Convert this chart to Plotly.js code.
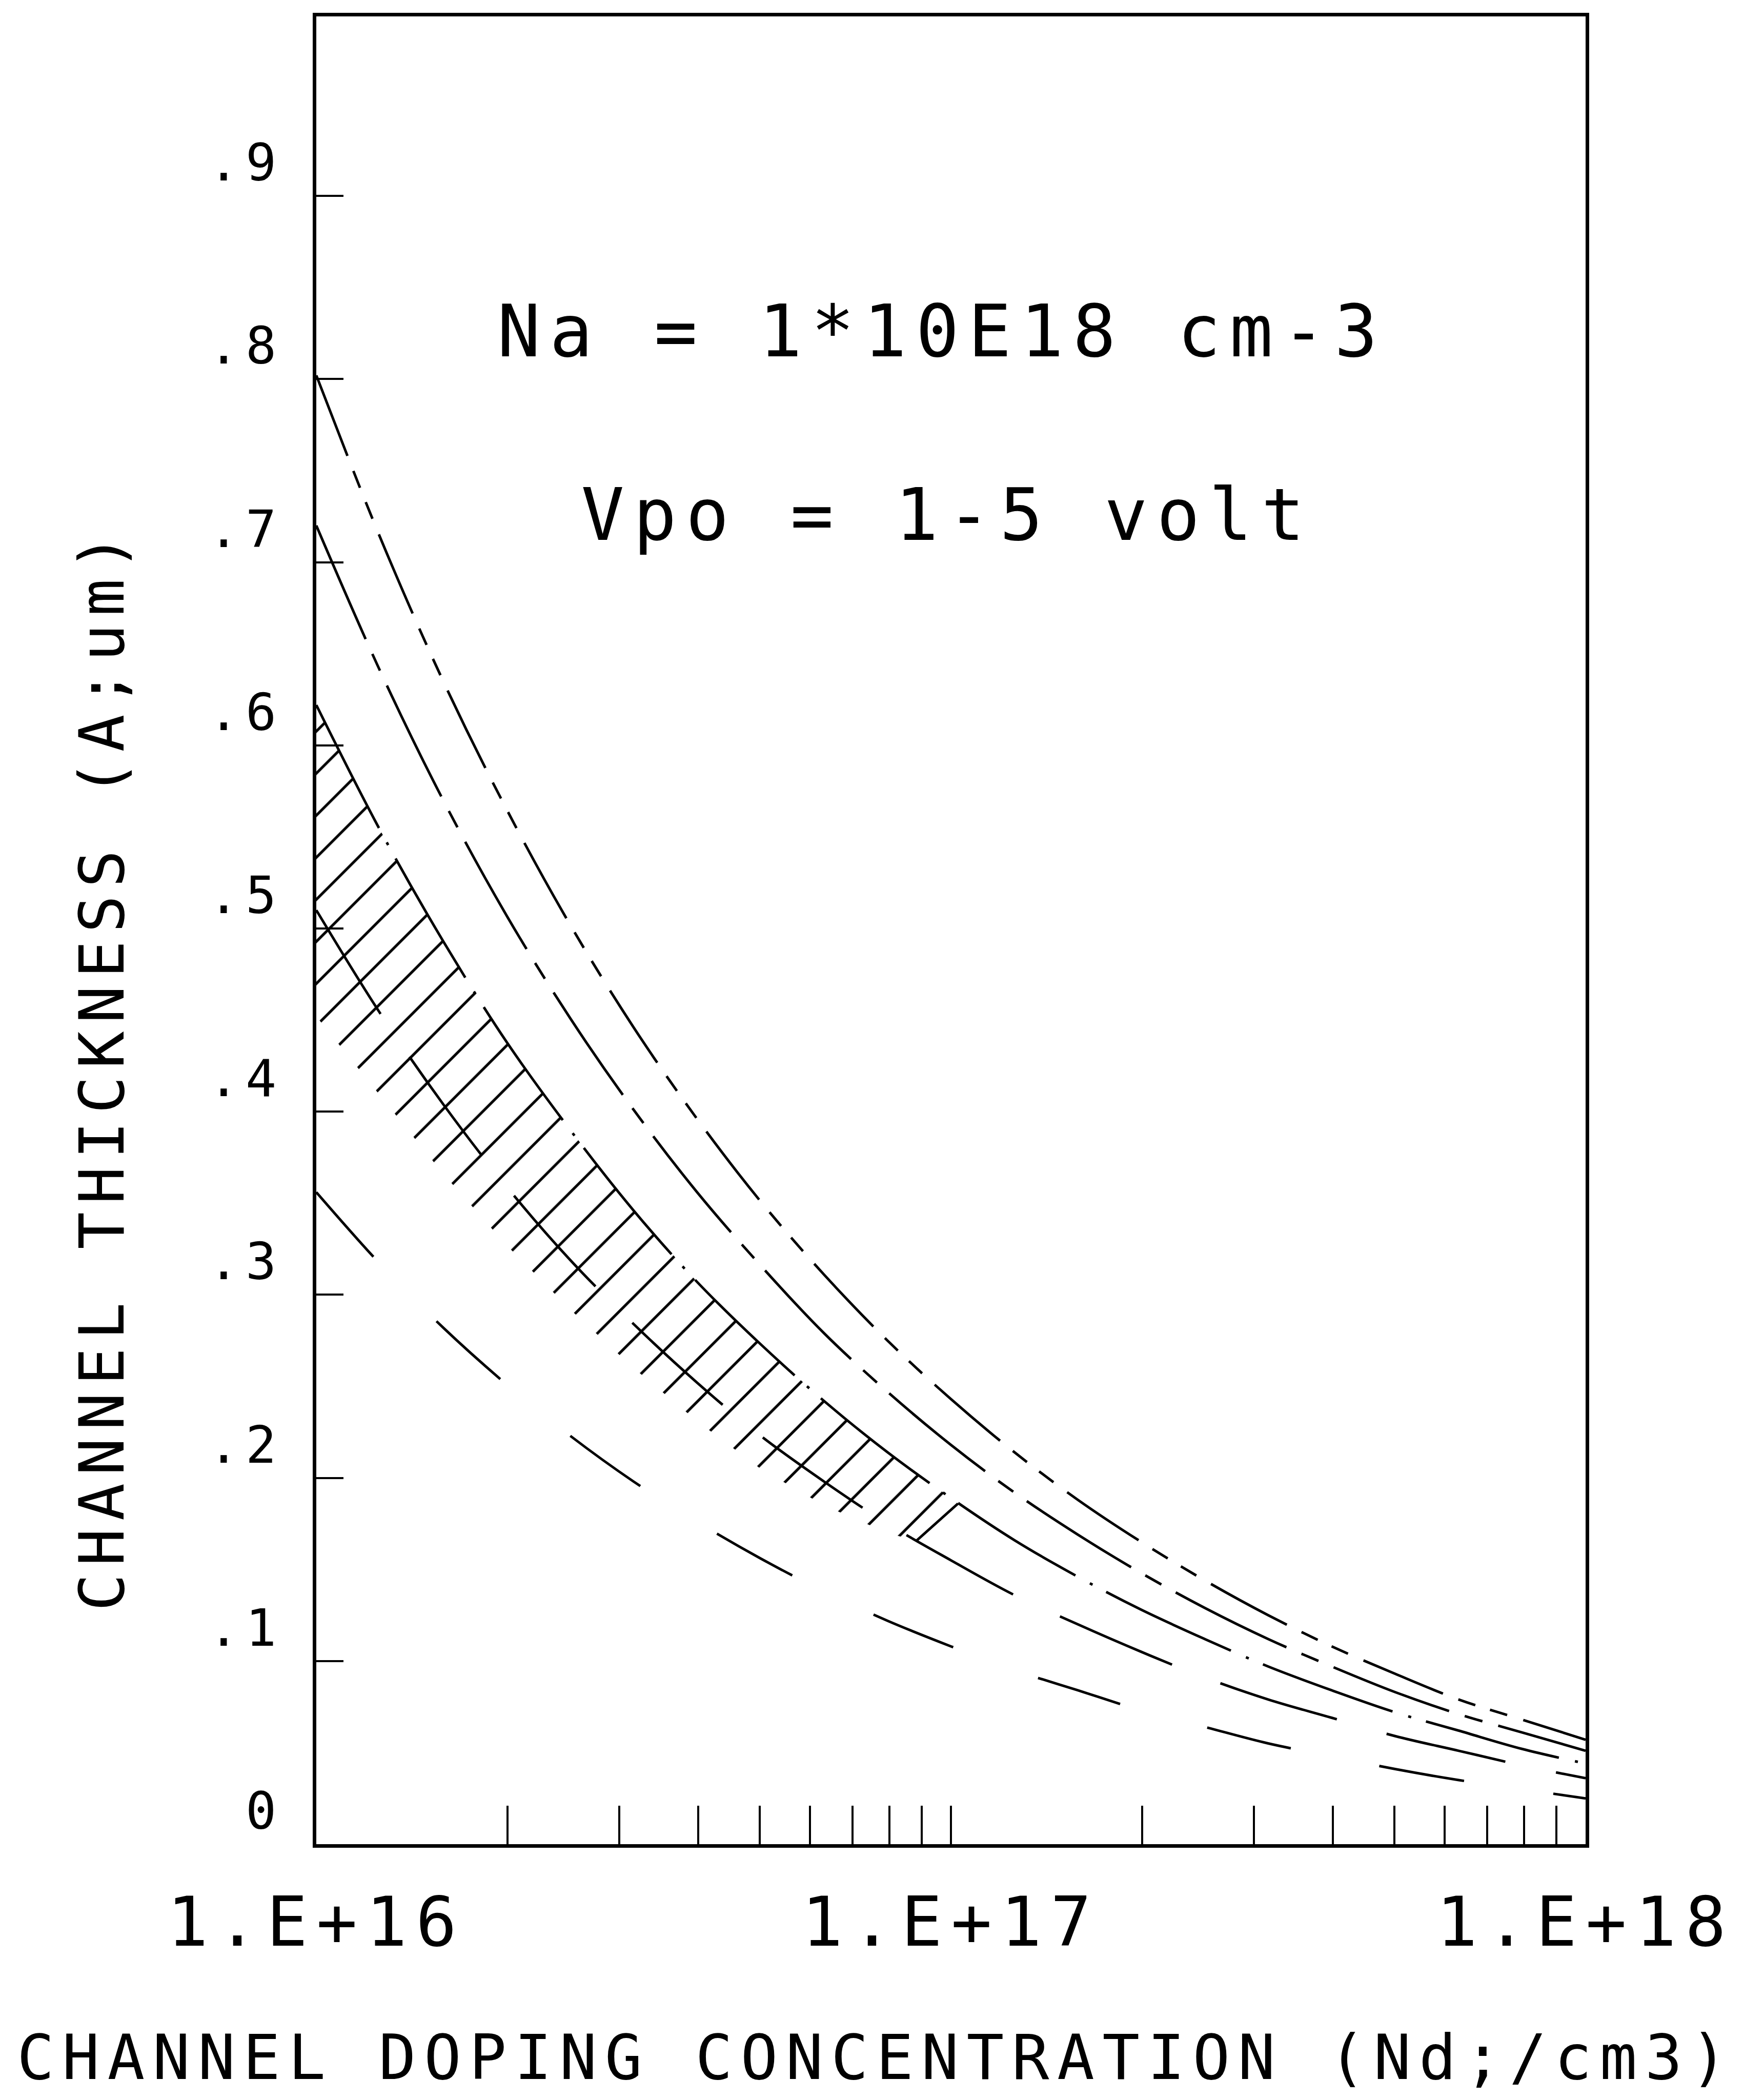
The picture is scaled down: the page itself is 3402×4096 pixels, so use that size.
<!DOCTYPE html>
<html>
<head>
<meta charset="utf-8">
<script src="https://cdn.plot.ly/plotly-3.0.1.min.js"></script>
<style>
html, body { margin:0; padding:0; background:#fff; }
#chart { width:3402px; height:4096px; }
#chart text { letter-spacing: 0.127em; }
</style>
</head>
<body>
<div id="chart"></div>
<script>
// Channel doping concentration Nd (/cm3), 0.1-decade steps
const nd = [1e16, 1.259e16, 1.585e16, 1.995e16, 2.512e16, 3.162e16, 3.981e16, 5.012e16, 6.31e16, 7.943e16,
            1e17, 1.259e17, 1.585e17, 1.995e17, 2.512e17, 3.162e17, 3.981e17, 5.012e17, 6.31e17, 7.943e17, 1e18];
// Channel thickness A (um) for Vpo = 1..5 V
const vpo1 = [0.356,0.317,0.282,0.251,0.223,0.198,0.176,0.156,0.138,0.122,0.108,0.095,0.084,0.073,0.064,0.055,0.048,0.041,0.035,0.030,0.025];
const vpo2 = [0.510,0.454,0.404,0.359,0.319,0.284,0.252,0.223,0.198,0.175,0.155,0.136,0.120,0.105,0.091,0.079,0.069,0.059,0.051,0.043,0.036];
const vpo3 = [0.622,0.554,0.493,0.438,0.390,0.346,0.307,0.273,0.242,0.214,0.189,0.166,0.146,0.128,0.112,0.097,0.084,0.072,0.062,0.052,0.044];
const vpo4 = [0.720,0.641,0.570,0.507,0.451,0.401,0.356,0.316,0.279,0.247,0.218,0.192,0.169,0.148,0.129,0.112,0.097,0.083,0.071,0.061,0.051];
const vpo5 = [0.802,0.714,0.635,0.565,0.502,0.446,0.396,0.351,0.311,0.275,0.243,0.214,0.188,0.165,0.144,0.125,0.108,0.093,0.079,0.068,0.057];

// Hatched band (hand-drawn region)
const hatchLowerNd = [1e16, 1.259e16, 1.585e16, 1.995e16, 2.512e16, 3.162e16, 3.981e16, 5.012e16, 6.31e16, 7.943e16, 8.81e16];
const hatchLowerA  = [0.452, 0.409, 0.366, 0.327, 0.292, 0.260, 0.231, 0.205, 0.185, 0.170, 0.1655];
const hatchUpperNd = [1e16, 1.259e16, 1.585e16, 1.995e16, 2.512e16, 3.162e16, 3.981e16, 5.012e16, 6.31e16, 7.943e16, 1e17, 1.026e17];
const hatchUpperA  = [0.622, 0.554, 0.493, 0.438, 0.390, 0.346, 0.307, 0.273, 0.242, 0.214, 0.189, 0.186];
const hatchEdgeNd  = [8.81e16, 1.026e17];
const hatchEdgeA   = [0.1655, 0.186];

// Axis ticks
const xTickVals = [1e16,2e16,3e16,4e16,5e16,6e16,7e16,8e16,9e16,1e17,2e17,3e17,4e17,5e17,6e17,7e17,8e17,9e17,1e18];
const xTickText = ['1.E+16','','','','','','','','','1.E+17','','','','','','','','','1.E+18'];
const yTickVals = [0,0.1,0.2,0.3,0.4,0.5,0.6,0.7,0.8,0.9];
const yTickText = ['0','.1','.2','.3','.4','.5','.6','.7','.8','.9'];

const FONT = 'DejaVu Sans Mono';
const LW = 5;

const polyX = hatchLowerNd.concat(hatchUpperNd.slice().reverse());
const polyY = hatchLowerA.concat(hatchUpperA.slice().reverse());

const traces = [
  {x: polyX, y: polyY, mode: 'lines', fill: 'toself', line: {width: 0, color: 'rgba(0,0,0,0)'},
   fillcolor: 'rgba(0,0,0,0)',
   fillpattern: {shape: '/', size: 58, solidity: 0.09, fgcolor: '#000', bgcolor: 'rgba(0,0,0,0)', fillmode: 'replace'},
   hoverinfo: 'skip'},
  {x: nd, y: vpo1, mode: 'lines', line: {color: '#000', width: LW, dash: '168px,176px', shape: 'spline'}},
  {x: nd, y: vpo2, mode: 'lines', line: {color: '#000', width: LW, dash: '238px,101px', shape: 'spline'}},
  {x: nd, y: vpo3, mode: 'lines', line: {color: '#000', width: LW, dash: '269px,32px,6px,30px', shape: 'spline'}},
  {x: nd, y: vpo4, mode: 'lines', line: {color: '#000', width: LW, dash: '241px,32px,36px,32px', shape: 'spline'}},
  {x: nd, y: vpo5, mode: 'lines', line: {color: '#000', width: LW, dash: '168px,32px,35px,30px,35px,33px', shape: 'spline'}},
  {x: hatchEdgeNd, y: hatchEdgeA, mode: 'lines', line: {color: '#000', width: LW}}
];

const layout = {
  width: 3402, height: 4096,
  margin: {l: 617, r: 309, t: 32, b: 499, pad: 0},
  paper_bgcolor: '#ffffff', plot_bgcolor: '#ffffff',
  showlegend: false,
  font: {family: FONT, color: '#000'},
  xaxis: {
    type: 'log', range: [16, 18],
    showgrid: false, zeroline: false,
    showline: true, linecolor: '#000', linewidth: 7, mirror: true,
    ticks: 'inside', ticklen: 75, tickwidth: 4, tickcolor: '#000',
    tickmode: 'array', tickvals: xTickVals, ticktext: xTickText,
    tickfont: {family: FONT, size: 133, color: '#000'},
    ticklabelstandoff: 31
  },
  yaxis: {
    range: [0, 0.998],
    showgrid: false, zeroline: false,
    showline: true, linecolor: '#000', linewidth: 7, mirror: true,
    ticks: 'inside', ticklen: 53, tickwidth: 4, tickcolor: '#000',
    tickmode: 'array', tickvals: yTickVals, ticktext: yTickText,
    tickfont: {family: FONT, size: 100, color: '#000'},
    ticklabelshift: -65, ticklabelstandoff: 38
  },
  annotations: [
    {text: 'Na = 1*10E18 cm-3', xref: 'paper', yref: 'paper', x: 0.493, y: 0.8275,
     xanchor: 'center', yanchor: 'middle', showarrow: false, font: {family: FONT, size: 140, color: '#000'}},
    {text: 'Vpo = 1-5 volt', xref: 'paper', yref: 'paper', x: 0.497, y: 0.7271,
     xanchor: 'center', yanchor: 'middle', showarrow: false, font: {family: FONT, size: 140, color: '#000'}},
    {text: 'CHANNEL DOPING CONCENTRATION (Nd;/cm3)', xref: 'paper', yref: 'paper', x: 0.441, y: -0.1167,
     xanchor: 'center', yanchor: 'middle', showarrow: false, font: {family: FONT, size: 121, color: '#000'}},
    {text: 'CHANNEL THICKNESS (A;um)', xref: 'paper', yref: 'paper', x: -0.1688, y: 0.4244, textangle: -90,
     xanchor: 'center', yanchor: 'middle', showarrow: false, font: {family: FONT, size: 121, color: '#000'}}
  ]
};

Plotly.newPlot('chart', traces, layout, {staticPlot: true, displayModeBar: false});
</script>
</body>
</html>
